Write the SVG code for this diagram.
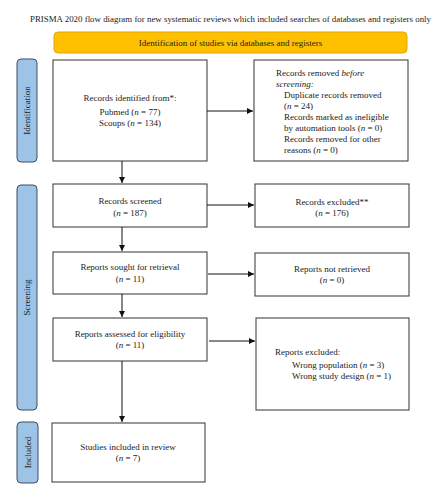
<svg xmlns="http://www.w3.org/2000/svg" width="447" height="500" viewBox="0 0 447 500">
<defs>
<style>
text{font-family:"Liberation Serif","Times New Roman",serif;font-size:9px;fill:#222}
.c{text-anchor:middle}
.box{fill:#fff;stroke:#333;stroke-width:1}
.side{fill:#9dc3e6;stroke:#3c4f62;stroke-width:1}
.ln{stroke:#111;stroke-width:1;fill:none}
</style>
<marker id="ah" viewBox="0 0 10 10" refX="10" refY="5" markerWidth="6" markerHeight="6" markerUnits="userSpaceOnUse" orient="auto"><path d="M0,0L10,5L0,10z" fill="#111"/></marker>
</defs>
<rect width="447" height="500" fill="#fff"/>
<text id="title" x="30" y="22" textLength="401" lengthAdjust="spacingAndGlyphs">PRISMA 2020 flow diagram for new systematic reviews which included searches of databases and registers only</text>
<g id="header">
<rect x="54" y="32" width="353" height="21" rx="4" fill="#ffc000" stroke="#e0a800" stroke-width="1"/>
<text class="c" x="230.5" y="46">Identification of studies via databases and registers</text>
</g>
<g id="side-identification">
<rect class="side" x="17" y="59" width="20" height="103" rx="4"/>
<text class="c" transform="translate(30,110.5) rotate(-90)">Identification</text>
</g>
<g id="side-screening">
<rect class="side" x="17" y="185" width="20" height="225" rx="4"/>
<text class="c" transform="translate(30,297.5) rotate(-90)">Screening</text>
</g>
<g id="side-included">
<rect class="side" x="17" y="422" width="21" height="61" rx="4"/>
<text class="c" transform="translate(30.5,452.5) rotate(-90)">Included</text>
</g>
<g id="n-identified">
<rect class="box" x="53" y="60" width="154" height="101"/>
<text class="c" x="130" y="101">Records identified from*:</text>
<text class="c" x="130" y="115">Pubmed (<tspan font-style="italic">n</tspan> = 77)</text>
<text class="c" x="130" y="126">Scoups (<tspan font-style="italic">n</tspan> = 134)</text>
</g>
<g id="n-removed">
<rect class="box" x="254" y="60" width="154" height="101"/>
<text x="276" y="76">Records removed <tspan font-style="italic">before</tspan></text>
<text x="276" y="87" font-style="italic">screening:</text>
<text x="284" y="98">Duplicate records removed</text>
<text x="284" y="109">(<tspan font-style="italic">n</tspan> = 24)</text>
<text x="284" y="120">Records marked as ineligible</text>
<text x="284" y="131">by automation tools (<tspan font-style="italic">n</tspan> = 0)</text>
<text x="284" y="142">Records removed for other</text>
<text x="284" y="153">reasons (<tspan font-style="italic">n</tspan> = 0)</text>
</g>
<g id="n-screened">
<rect class="box" x="53" y="184" width="154" height="43"/>
<text class="c" x="130" y="204">Records screened</text>
<text class="c" x="130" y="216">(<tspan font-style="italic">n</tspan> = 187)</text>
</g>
<g id="n-excluded">
<rect class="box" x="255" y="184" width="154" height="43"/>
<text class="c" x="332" y="205">Records excluded**</text>
<text class="c" x="332" y="216">(<tspan font-style="italic">n</tspan> = 176)</text>
</g>
<g id="n-sought">
<rect class="box" x="53" y="252" width="154" height="42"/>
<text class="c" x="130" y="270">Reports sought for retrieval</text>
<text class="c" x="130" y="282">(<tspan font-style="italic">n</tspan> = 11)</text>
</g>
<g id="n-notretrieved">
<rect class="box" x="255" y="253" width="154" height="43"/>
<text class="c" x="332" y="272">Reports not retrieved</text>
<text class="c" x="332" y="283">(<tspan font-style="italic">n</tspan> = 0)</text>
</g>
<g id="n-assessed">
<rect class="box" x="53" y="318" width="154" height="43"/>
<text class="c" x="130" y="337">Reports assessed for eligibility</text>
<text class="c" x="130" y="348">(<tspan font-style="italic">n</tspan> = 11)</text>
</g>
<g id="n-reportsexcluded">
<rect class="box" x="256" y="318" width="153" height="92"/>
<text x="275" y="355">Reports excluded:</text>
<text x="292" y="368">Wrong population (<tspan font-style="italic">n</tspan> = 3)</text>
<text x="292" y="379">Wrong study design (<tspan font-style="italic">n</tspan> = 1)</text>
</g>
<g id="n-included">
<rect class="box" x="52" y="423" width="153" height="59"/>
<text class="c" x="128" y="450">Studies included in review</text>
<text class="c" x="128" y="461">(<tspan font-style="italic">n</tspan> = 7)</text>
</g>
<g id="connectors">
<line class="ln" x1="207" y1="111" x2="253" y2="111" marker-end="url(#ah)"/>
<line class="ln" x1="122" y1="161" x2="122" y2="183" marker-end="url(#ah)"/>
<line class="ln" x1="207" y1="205" x2="254" y2="205" marker-end="url(#ah)"/>
<line class="ln" x1="122" y1="227" x2="122" y2="251" marker-end="url(#ah)"/>
<line class="ln" x1="208" y1="274" x2="254" y2="274" marker-end="url(#ah)"/>
<line class="ln" x1="122" y1="294" x2="122" y2="317" marker-end="url(#ah)"/>
<line class="ln" x1="209" y1="341" x2="255" y2="341" marker-end="url(#ah)"/>
<line class="ln" x1="122" y1="361" x2="122" y2="422" marker-end="url(#ah)"/>
</g>
</svg>
